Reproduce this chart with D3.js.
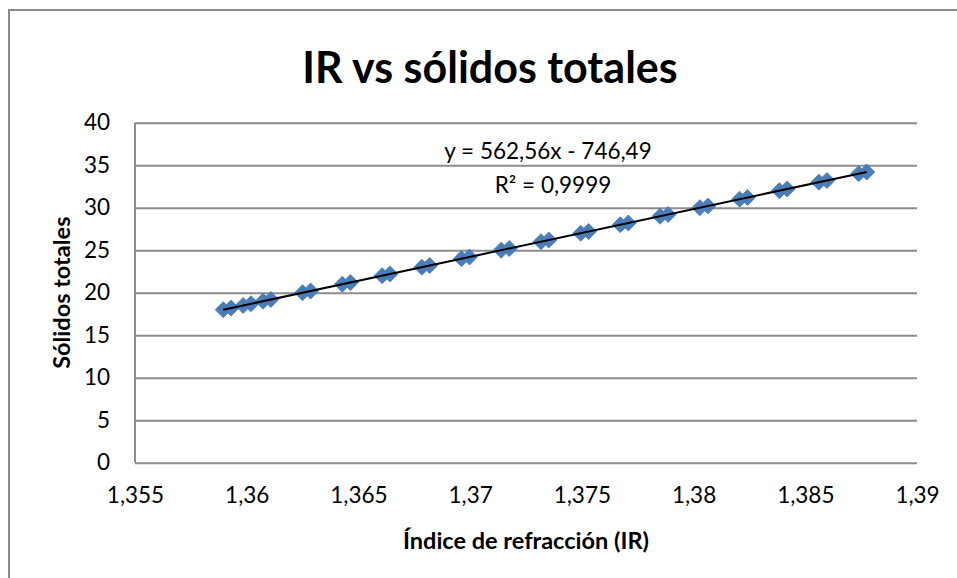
<!DOCTYPE html>
<html>
<head>
<meta charset="utf-8">
<script src="https://cdnjs.cloudflare.com/ajax/libs/d3/7.8.5/d3.min.js"></script>
<style>
  html, body { margin: 0; padding: 0; background: #fff; }
  svg { display: block; font-family: Lato, "Open Sans", sans-serif; }
</style>
</head>
<body>
<svg id="chart" width="957" height="578"></svg>
<script>
// data
var irValues = [1.35895, 1.35930, 1.35984, 1.36019, 1.36073, 1.36108,
    1.36250, 1.36286, 1.36428, 1.36464, 1.36606, 1.36641,
    1.36784, 1.36819, 1.36961, 1.36997, 1.37139, 1.37175,
    1.37317, 1.37352, 1.37495, 1.37530, 1.37672, 1.37708,
    1.37850, 1.37886, 1.38028, 1.38064, 1.38206, 1.38241,
    1.38384, 1.38419, 1.38561, 1.38597, 1.38739, 1.38775]
var solidValues = [18, 18.2, 18.5, 18.7, 19, 19.2,
    20, 20.2, 21, 21.2, 22, 22.2,
    23, 23.2, 24, 24.2, 25, 25.2,
    26, 26.2, 27, 27.2, 28, 28.2,
    29, 29.2, 30, 30.2, 31, 31.2,
    32, 32.2, 33, 33.2, 34, 34.2]
var xTicks = [1.355, 1.36, 1.365, 1.37, 1.375, 1.38, 1.385, 1.39]
var yTicks = [0, 5, 10, 15, 20, 25, 30, 35, 40]
var trendSlope = 562.56
var trendIntercept = -746.49
var trendLabels = ['y = 562,56x - 746,49', 'R² = 0,9999']

var points = irValues.map((x, i) => ({ x: x, y: solidValues[i] }))

const svg = d3.select('#chart')
const plot = { left: 135, right: 917, top: 122.7, bottom: 462.7 }
const gridColor = '#8c8c8c'
const markerColor = '#4a7ebb'
const tickFont = '22.5px'

// chart frame (runs off the right and bottom edges)
svg.append('rect')
    .attr('x', 9).attr('y', 10)
    .attr('width', 1000).attr('height', 600)
    .style('fill', 'none')
    .style('stroke', '#8a8a8a')
    .style('stroke-width', 2)

var x = d3.scaleLinear().domain([1.355, 1.39]).range([plot.left, plot.right])
var y = d3.scaleLinear().domain([0, 40]).range([plot.bottom, plot.top])

const fmt = d => String(d).replace('.', ',')

// y axis + gridlines
var yAxis = svg.append('g')
    .attr('transform', `translate(${plot.left},0)`)
    .call(d3.axisLeft(y).tickValues(yTicks).tickSize(-(plot.right - plot.left)).tickPadding(25).tickFormat(fmt))
yAxis.select('.domain').remove()
yAxis.selectAll('.tick line')
    .style('stroke', gridColor)
    .style('stroke-width', 2)
yAxis.selectAll('.tick text')
    .style('font-size', tickFont)
    .style('fill', '#000')
    .style('font-family', 'Lato, sans-serif')

// left axis line
svg.append('line')
    .attr('x1', plot.left).attr('x2', plot.left)
    .attr('y1', plot.top).attr('y2', plot.bottom)
    .style('stroke', gridColor)
    .style('stroke-width', 2)

// x axis labels (no tick marks)
var xAxis = svg.append('g')
    .attr('transform', `translate(0,${plot.bottom})`)
    .call(d3.axisBottom(x).tickValues(xTicks).tickSize(0).tickPadding(24).tickFormat(fmt))
xAxis.select('.domain').remove()
xAxis.selectAll('.tick text')
    .style('font-size', tickFont)
    .style('fill', '#000')
    .style('font-family', 'Lato, sans-serif')

// markers
svg.append('g').selectAll('path.pt')
    .data(points)
    .enter().append('path')
    .attr('class', 'pt')
    .attr('transform', d => `translate(${x(d.x)},${y(d.y)})`)
    .attr('d', 'M0,-8L8,0L0,8L-8,0Z')
    .style('fill', markerColor)
    .style('stroke', '#4577b3')
    .style('stroke-width', 0.8)

// linear trendline
var xMin = d3.min(irValues), xMax = d3.max(irValues)
svg.append('line')
    .attr('x1', x(xMin)).attr('y1', y(trendSlope * xMin + trendIntercept))
    .attr('x2', x(xMax)).attr('y2', y(trendSlope * xMax + trendIntercept))
    .style('stroke', '#000')
    .style('stroke-width', 2)

svg.append('text')
    .attr('x', 548).attr('y', 159)
    .attr('text-anchor', 'middle')
    .style('font-size', '22.5px')
    .text(trendLabels[0])
svg.append('text')
    .attr('x', 553).attr('y', 193)
    .attr('text-anchor', 'middle')
    .style('font-size', '22.5px')
    .text(trendLabels[1])

// titles
svg.append('text')
    .attr('x', 490).attr('y', 83)
    .attr('text-anchor', 'middle')
    .style('font-size', '43px')
    .style('font-weight', 'bold')
    .text('IR vs sólidos totales')

svg.append('text')
    .attr('x', 526).attr('y', 549)
    .attr('text-anchor', 'middle')
    .style('font-size', '23.5px')
    .style('font-weight', 'bold')
    .text('Índice de refracción (IR)')

svg.append('text')
    .attr('transform', `translate(70,${(plot.top + plot.bottom) / 2}) rotate(-90)`)
    .attr('text-anchor', 'middle')
    .style('font-size', '23.5px')
    .style('font-weight', 'bold')
    .text('Sólidos totales')
</script>
</body>
</html>
